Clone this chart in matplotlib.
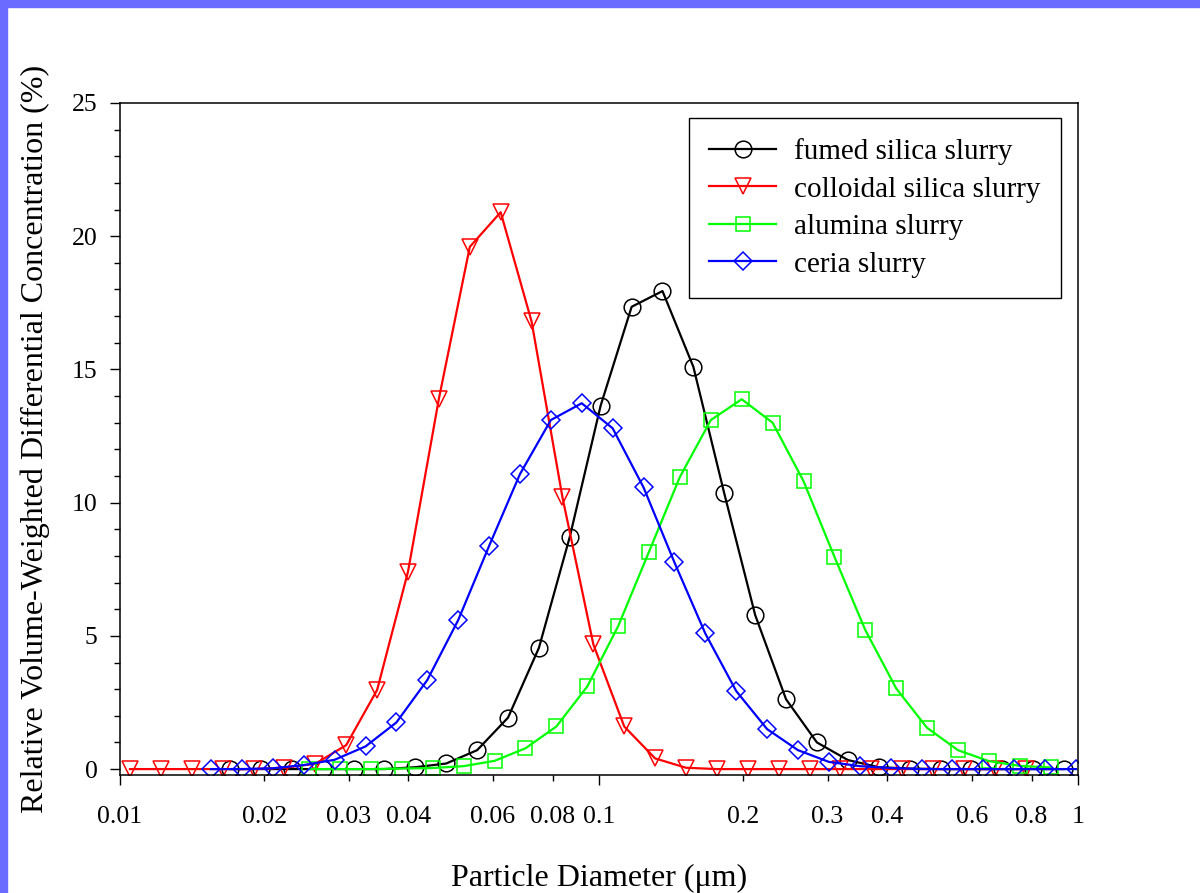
import matplotlib
matplotlib.use("Agg")
import matplotlib.pyplot as plt
from matplotlib.patches import Rectangle

plt.rcParams['font.family'] = ['Liberation Serif', 'DejaVu Serif']

# particle diameter (um) and relative volume concentration (%)
fumed_x = [0.01697, 0.01969, 0.02284, 0.02649, 0.03074, 0.03566, 0.04137, 0.04799,
           0.05567, 0.06458, 0.07492, 0.08692, 0.1008, 0.1170, 0.1357, 0.1574,
           0.1826, 0.2119, 0.2458, 0.2851, 0.3308, 0.3838, 0.4452, 0.5165,
           0.5992, 0.6951, 0.8064, 0.9355]
fumed_y = [0, 0, 0, 0, 0, 0, 0.07, 0.21,
           0.71, 1.93, 4.55, 8.72, 13.64, 17.35, 17.94, 15.1,
           10.35, 5.78, 2.62, 1.0, 0.34, 0.07, 0.02, 0,
           0, 0, 0, 0]

colloidal_x = [0.01049, 0.01217, 0.01412, 0.01638, 0.01900, 0.02204, 0.02557, 0.02967,
               0.03442, 0.03993, 0.04632, 0.05374, 0.06234, 0.07232, 0.08390, 0.09733,
               0.1129, 0.1310, 0.1520, 0.1763, 0.2045, 0.2373, 0.2753, 0.3193,
               0.3705, 0.4298, 0.4986, 0.5784, 0.6710, 0.7785]
colloidal_y = [0, 0, 0, 0, 0, 0.05, 0.2, 0.9,
               2.97, 7.41, 13.9, 19.6, 20.9, 16.8, 10.2, 4.68,
               1.6, 0.4, 0.05, 0, 0, 0, 0, 0,
               0, 0, 0, 0, 0, 0]

alumina_x = [0.02484, 0.02882, 0.03343, 0.03878, 0.04499, 0.05219, 0.06055, 0.07024,
             0.08149, 0.09453, 0.1097, 0.1272, 0.1476, 0.1712, 0.1986, 0.2304,
             0.2673, 0.3101, 0.3597, 0.4173, 0.4841, 0.5616, 0.6515, 0.7558,
             0.8768]
alumina_y = [0, 0, 0, 0.02, 0.04, 0.11, 0.31, 0.78,
             1.6, 3.1, 5.37, 8.16, 10.97, 13.1, 13.88, 13.0,
             10.81, 7.97, 5.22, 3.03, 1.55, 0.71, 0.3, 0.12,
             0.06]

ceria_x = [0.01549, 0.01797, 0.02085, 0.02418, 0.02806, 0.03255, 0.03776, 0.04380,
           0.05082, 0.05895, 0.06839, 0.07934, 0.09204, 0.1068, 0.1239, 0.1437,
           0.1667, 0.1934, 0.2244, 0.2603, 0.3020, 0.3503, 0.4064, 0.4715,
           0.5470, 0.6345, 0.7361, 0.8540, 0.9907]
ceria_y = [0, 0, 0.03, 0.15, 0.35, 0.85, 1.75, 3.34,
           5.59, 8.37, 11.07, 13.1, 13.73, 12.79, 10.57, 7.76,
           5.09, 2.93, 1.5, 0.71, 0.27, 0.11, 0.04, 0,
           0, 0, 0, 0, 0]

major_x = [0.01, 0.1, 1]
major_x_labels = ['0.01', '0.1', '1']
minor_x = [0.02, 0.03, 0.04, 0.06, 0.08, 0.2, 0.3, 0.4, 0.6, 0.8]
minor_x_labels = ['0.02', '0.03', '0.04', '0.06', '0.08', '0.2', '0.3', '0.4', '0.6', '0.8']

fig = plt.figure(figsize=(12, 8.93), dpi=100)
ax = fig.add_axes([0.1, 0.1316, 0.7983, 0.7531])

# lavender frame strips on the top and left edges
fig.patches.append(Rectangle((0, 0), 0.006, 1, transform=fig.transFigure,
                             color='#6b6bff', zorder=0))
fig.patches.append(Rectangle((0, 0.992), 1, 0.008, transform=fig.transFigure,
                             color='#6b6bff', zorder=0))

ax.plot(fumed_x, fumed_y, color='black', lw=1.6, marker='o', ms=12,
        mfc='none', mec='black', mew=1.1, label='fumed silica slurry')
ax.plot(colloidal_x, colloidal_y, color='#ff0000', lw=1.6, marker='v', ms=12,
        mfc='none', mec='#ff0000', mew=1.1, label='colloidal silica slurry')
ax.plot(alumina_x, alumina_y, color='#00ff00', lw=1.6, marker='s', ms=10.5,
        mfc='none', mec='#00ff00', mew=1.1, label='alumina slurry')
ax.plot(ceria_x, ceria_y, color='#0000ff', lw=1.6, marker='D', ms=9.5,
        mfc='none', mec='#0000ff', mew=1.1, label='ceria slurry')

ax.set_xscale('log')
ax.set_xlim(0.01, 1)
ax.set_ylim(-0.24, 25)

ax.set_xticks(major_x, labels=major_x_labels)
ax.set_xticks(minor_x, labels=minor_x_labels, minor=True)
ax.set_yticks(range(0, 26, 5))
ax.set_yticks(range(0, 26), minor=True)

ax.tick_params(axis='x', which='major', direction='out', length=7.2, width=1.0,
               pad=14.5, labelsize=18.5, top=False)
ax.tick_params(axis='x', which='minor', direction='out', length=4.5, width=1.0,
               pad=17.2, labelsize=18.5, top=False)
ax.tick_params(axis='y', which='major', direction='out', length=7.2, width=1.0,
               pad=9, labelsize=18.5, right=False)
ax.tick_params(axis='y', which='minor', direction='out', length=4.5, width=1.0,
               right=False)

for s in ax.spines.values():
    s.set_linewidth(1.1)

ax.set_xlabel('Particle Diameter (μm)', fontsize=23, labelpad=26)
ax.set_ylabel('Relative Volume-Weighted Differential Concentration (%)',
              fontsize=23, labelpad=16)

leg = ax.legend(loc='upper right', bbox_to_anchor=(0.982, 0.978), fontsize=21,
                frameon=True, fancybox=False, edgecolor='black', framealpha=1,
                handlelength=2.3, handletextpad=0.6, labelspacing=0.38,
                borderpad=0.7, borderaxespad=0)
leg.get_frame().set_linewidth(1.0)

fig.savefig('out.png', dpi=100)
